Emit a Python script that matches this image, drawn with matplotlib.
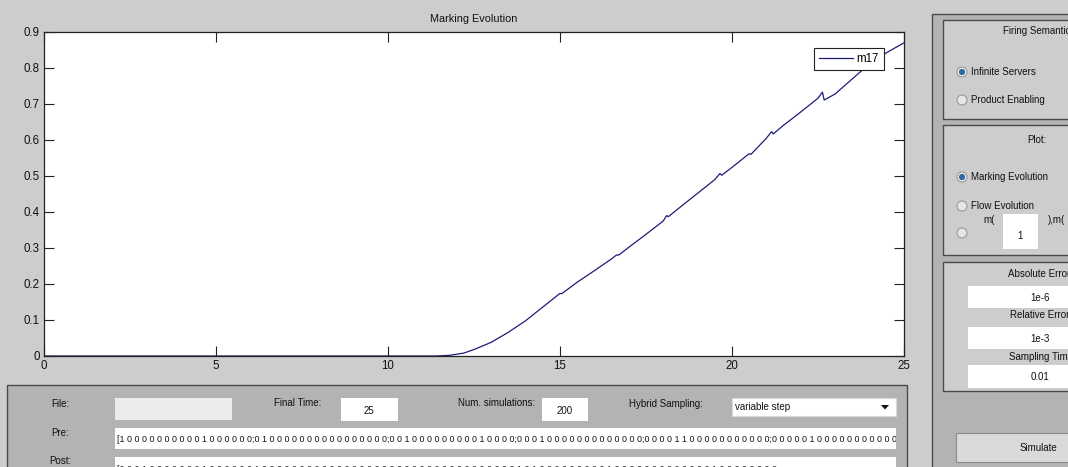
import matplotlib
matplotlib.use("Agg")
import matplotlib.pyplot as plt
from matplotlib.patches import Rectangle, Circle, Polygon
from matplotlib.ticker import FuncFormatter, MultipleLocator
from matplotlib.transforms import Bbox, TransformedBbox

plt.rcParams['font.family'] = ['Liberation Sans', 'DejaVu Sans']

# ==========================
# DATA
# ==========================
time = [0, 5, 10, 11.4, 11.8, 12.2, 12.5, 13.0, 13.5, 14.0, 14.5, 15.0, 15.05,
        15.5, 16.0, 16.5, 16.65, 16.7, 17.0, 17.5, 18.0, 18.1, 18.15, 18.5,
        19.0, 19.5, 19.65, 19.7, 20.0, 20.5, 20.55, 21.0, 21.15, 21.2, 21.5,
        22.0, 22.5, 22.63, 22.68, 23.0, 23.5, 24.0, 24.5, 25.0]
m17 = [0, 0, 0, 0, 0.002, 0.008, 0.018, 0.038, 0.066, 0.098, 0.136, 0.174, 0.173,
       0.205, 0.237, 0.270, 0.281, 0.280, 0.302, 0.338, 0.375, 0.390, 0.387, 0.414,
       0.452, 0.490, 0.507, 0.502, 0.524, 0.562, 0.560, 0.605, 0.623, 0.617, 0.641,
       0.678, 0.716, 0.733, 0.711, 0.728, 0.770, 0.812, 0.843, 0.870]
series_name = "m17"
plot_title = "Marking Evolution"
x_max = 25
y_max = 0.9

final_time = "25"
num_simulations = "200"
hybrid_sampling = "variable step"
abs_error = "1e-6"
rel_error = "1e-3"
sampling_time = "0.01"
marking_index = "1"

pre_rows = ["1 0 0 0 0 0 0 0 0 0 0 1 0 0 0 0 0 0",
            "0 1 0 0 0 0 0 0 0 0 0 0 0 0 0 0 0 0",
            "0 0 1 0 0 0 0 0 0 0 0 0 1 0 0 0 0",
            "0 0 0 1 0 0 0 0 0 0 0 0 0 0 0 0 0",
            "0 0 0 0 1 1 0 0 0 0 0 0 0 0 0 0 0",
            "0 0 0 0 0 1 0 0 0 0 0 0 0 0 0 0 0"]
post_rows = ["0 0 0 1 0 0 0 0 0 0 0 1 0 0 0 0 0 0",
             "1 0 0 0 0 0 0 0 0 0 0 0 0 0 0 0 0 0",
             "0 0 0 0 0 0 0 0 0 0 0 0 0 0 0 0 0 1",
             "0 1 0 0 0 0 0 0 0 0 0 1 0 0 0 0 0",
             "0 0 0 0 0 0 0 0 1 0 0 0 0 0 0 0 0"]

BG = "#cdcdcd"
PANEL_DARK = "#b3b3b3"
EDGE = "#4a4a4a"
LINE = "#1c1c78"

fig = plt.figure(figsize=(10.68, 4.67), dpi=100, facecolor=BG)

# pixel-space layer for the GUI controls
gui = fig.add_axes([0, 0, 1, 1], zorder=0)
gui.set_xlim(0, 1068)
gui.set_ylim(467, 0)
gui.axis("off")


def box(x0, y0, x1, y1, face="white", edge="none", lw=0.8):
    r = Rectangle((x0, y0), x1 - x0, y1 - y0, facecolor=face, edgecolor=edge, lw=lw)
    gui.add_patch(r)
    return r


def label(x, y, s, ha="center", size=7):
    return gui.text(x, y, s, ha=ha, va="center", fontsize=size, color="#111111")


def radio(x, y, selected=False):
    gui.add_patch(Circle((x, y), 5, facecolor="#e6e6e6", edgecolor="#9a9a9a", lw=0.8))
    if selected:
        gui.add_patch(Circle((x, y), 2.6, facecolor="#2b6cb0", edgecolor="#1d4f87", lw=0.5))


def field_text(x0, y0, x1, y1, y, s):
    # long matrix strings are cut at the edge of their edit box
    t = gui.text(x0 + 2, y, s, ha="left", va="center", fontsize=6.4, color="#111111")
    t.set_clip_on(True)
    t.set_clip_box(TransformedBbox(Bbox([[x0, y0], [x1, y1]]), gui.transData))
    return t


# bottom panel
box(7, 385, 907, 480, face=PANEL_DARK, edge=EDGE, lw=1.0)
label(60, 404, "File:")
box(115, 398, 232, 420, face="#ececec")
label(298, 403, "Final Time:")
box(341, 398, 398, 421)
label(369, 411, final_time)
label(497, 403, "Num. simulations:")
box(542, 398, 588, 421)
label(565, 411, num_simulations)
label(666, 404, "Hybrid Sampling:")
box(732, 398, 896, 416, edge="#d8d8d8")
label(735, 407, hybrid_sampling, ha="left")
gui.add_patch(Polygon([(881, 405), (889, 405), (885, 409.5)], closed=True,
                      facecolor="#111111", edgecolor="none"))

label(60, 433, "Pre:")
box(115, 428, 896, 449)
field_text(115, 428, 896, 449, 439, "[" + ";".join(pre_rows))

label(60, 461, "Post:")
box(115, 457, 896, 480)
field_text(115, 457, 896, 480, 469, "[" + ";".join(post_rows))

# right hand panel
box(932, 14, 1080, 480, face=PANEL_DARK, edge=EDGE, lw=1.0)

box(943, 20, 1080, 119, face=BG, edge=EDGE, lw=1.0)
label(1003, 31, "Firing Semantics", ha="left")
radio(962, 72, selected=True)
label(971, 72, "Infinite Servers", ha="left")
radio(962, 100)
label(971, 100, "Product Enabling", ha="left")

box(943, 125, 1080, 255, face=BG, edge=EDGE, lw=1.0)
label(1037, 140, "Plot:")
radio(962, 177, selected=True)
label(971, 177, "Marking Evolution", ha="left")
radio(962, 206)
label(971, 206, "Flow Evolution", ha="left")
radio(962, 233)
label(983, 220, "m(", ha="left")
box(1003, 214, 1038, 249)
label(1020, 236, marking_index)
label(1048, 220, "),m(", ha="left")

box(943, 262, 1080, 391, face=BG, edge=EDGE, lw=1.0)
label(1008, 274, "Absolute Error", ha="left")
box(968, 286, 1080, 308)
label(1040, 298, abs_error)
label(1010, 315, "Relative Error", ha="left")
box(968, 327, 1080, 349)
label(1040, 339, rel_error)
label(1009, 357, "Sampling Time", ha="left")
box(968, 365, 1080, 388)
label(1040, 377, sampling_time)

box(956, 433, 1080, 462, face="#dadada", edge="#8a8a8a")
label(1038, 448, "Simulate")

# ==========================
# PLOT
# ==========================
ax = fig.add_axes([44 / 1068, (467 - 356) / 467, 860 / 1068, 324 / 467], zorder=1)
ax.plot(time, m17, color=LINE, lw=0.9, label=series_name)
ax.set_xlim(0, x_max)
ax.set_ylim(0, y_max)
ax.xaxis.set_major_locator(MultipleLocator(5))
ax.yaxis.set_major_locator(MultipleLocator(0.1))
fmt = FuncFormatter(lambda v, _: f"{v:g}")
ax.xaxis.set_major_formatter(fmt)
ax.yaxis.set_major_formatter(fmt)
ax.tick_params(direction="in", length=7, width=0.8, color="#222222",
               top=True, right=True, labelsize=8.3, labelcolor="#111111", pad=3)
for s in ax.spines.values():
    s.set_color("#222222")
    s.set_linewidth(0.9)
ax.set_title(plot_title, fontsize=7.8, pad=7, color="#111111")

leg = ax.legend(loc="upper right", bbox_to_anchor=(0.977, 0.952), fontsize=8.3,
                handlelength=2.9, handletextpad=0.35, borderpad=0.45,
                borderaxespad=0, fancybox=False, framealpha=1)
leg.get_frame().set_edgecolor("#222222")
leg.get_frame().set_linewidth(0.8)

fig.savefig("out.png", dpi=100, facecolor=BG)
